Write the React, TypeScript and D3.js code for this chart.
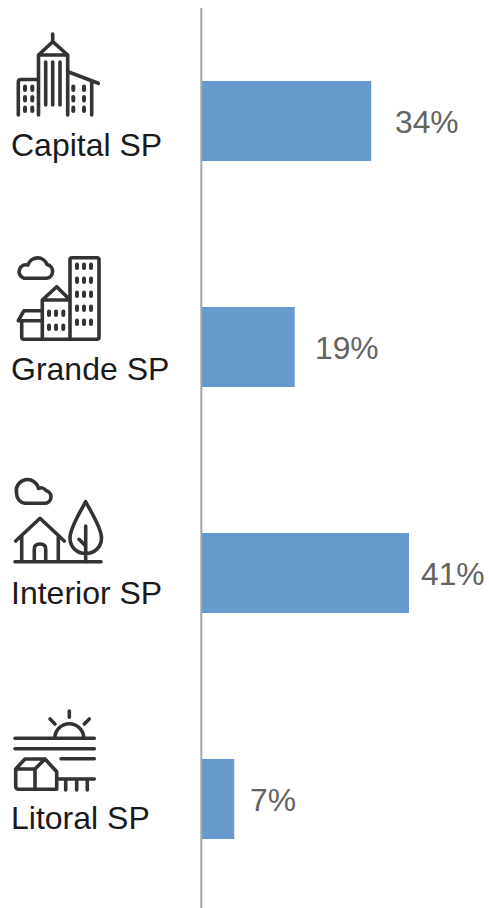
import React from "react";
import * as d3 from "d3";

const categories = ["Capital SP", "Grande SP", "Interior SP", "Litoral SP"];
const values = [33.8, 18.6, 41.3, 6.6];
const valueLabels = ["34%", "19%", "41%", "7%"];

const W = 489, H = 908;
const FONT = "'Liberation Sans', Arial, sans-serif";
const INK = "#333333";

const iconCapital = (
  <g>
    <path d="M52.7 34V42M38.5 55L52.7 41.7L67.7 55H38.5V115M67.7 55V115M45.7 62V105M52.7 62V105M60 62V105M38.5 79.5H21Q18.3 79.5 18.3 82V115M68 71.7L98.3 83.3M91.7 81V115" />
    <path strokeWidth={4} d="M25 86.5V90M32.3 86.5V90M25 97V100.5M32.3 97V100.5M25 107.5V111M32.3 107.5V111M73.3 86.5V90M84 86.5V90M73.3 97V100.5M84 97V100.5M73.3 107.5V111M84 107.5V111" />
  </g>
);
const iconGrande = (
  <g>
    <path d="M24 278.3H46.5A7 7 0 0 0 47 264.5A10 10 0 0 0 28 265A6.9 6.9 0 0 0 24 278.3Z" />
    <path d="M70 339.3V259.5Q70 257.7 72 257.7H97Q99 257.7 99 259.5V337Q99 339.3 97 339.3H24Q21.7 339.3 21.7 337V320.7M42.3 339.3V300H70L56.7 286.7L42.3 300M18.3 320.7L24 310.7H42.3M18.3 320.7H42.3" />
    <path strokeWidth={4} d="M77 264.5V268M84 264.5V268M91 264.5V268M77 278.5V282M84 278.5V282M91 278.5V282M77 292.5V296M84 292.5V296M91 292.5V296M77 306.5V310M84 306.5V310M91 306.5V310M77 320.5V324M84 320.5V324M91 320.5V324M49 311.5V315M56 311.5V315M63.3 311.5V315M49 325.5V329M56 325.5V329M63.3 325.5V329" />
  </g>
);
const iconInterior = (
  <g>
    <path d="M25 503.3H45A6.5 6.5 0 0 0 46 490.5A6 6 0 0 0 38.5 488.5A11 11 0 0 0 16.5 493A10 10 0 0 0 25 503.3Z" />
    <path d="M15 561.7H101M15.7 541L40 518.3L64.3 541M21.7 536V561.7M58.3 536V561.7M34.3 561.7V549Q34.3 544 40 544Q45.7 544 45.7 549V561.7" />
    <path d="M85.7 501.7C80 512 70 528 70 538C70 547 77 553.5 85.7 553.5C94.4 553.5 101.5 547 101.5 538C101.5 528 91 512 85.7 501.7ZM85.7 526V561.7M79 539.3L85.7 546" />
  </g>
);
const iconLitoral = (
  <g>
    <path d="M69.3 711V717.3M50 719L55 724M89.3 719L84.3 724M54.8 738.3A14.5 14.5 0 0 1 83.8 738.3M15 738.3H94.3M15 748.7H94.3M61 758.7H94.3" />
    <path d="M35 789.3H19Q15.7 789.3 15.7 786V769H35V789.3H56.7V771.7L45 759H25L15.7 769M35 769L45 759M56.7 779H94.3M65.7 779V790M76.7 779V790M87.3 779V790" />
  </g>
);
const icons = [iconCapital, iconGrande, iconInterior, iconLitoral];

export default function App() {
  const x = d3.scaleLinear().domain([0, 41.3]).range([201, 409]);
  const y = d3.scaleBand<string>().domain(categories).range([8, 912]).paddingInner(0.6458).paddingOuter(0.3229);
  const labelY = [156, 380, 604, 829];
  const valueX = [395, 315, 421, 250];

  return (
    <svg width={W} height={H} viewBox={`0 0 ${W} ${H}`}
      style={{ position: "absolute", left: 0, top: 0, display: "block" }}>
      <rect width={W} height={H} fill="#ffffff" />
      {categories.map((c, i) => (
        <g key={c}>
          <rect x={x(0)} y={y(c)} width={x(values[i]) - x(0)} height={y.bandwidth()} fill="#6699CC" />
          <text x={valueX[i]} y={(y(c) as number) + y.bandwidth() / 2 + 12} fontFamily={FONT} fontSize={31.8} fill="#636363">{valueLabels[i]}</text>
          <text x={11} y={labelY[i]} fontFamily={FONT} fontSize={32} fill="#1a1a1a">{c}</text>
          <g fill="none" stroke={INK} strokeWidth={3.6} strokeLinecap="round" strokeLinejoin="round">{icons[i]}</g>
        </g>
      ))}
      <line x1={201.3} x2={201.3} y1={8} y2={908} stroke="#A6A6A6" strokeWidth={2} />
    </svg>
  );
}
